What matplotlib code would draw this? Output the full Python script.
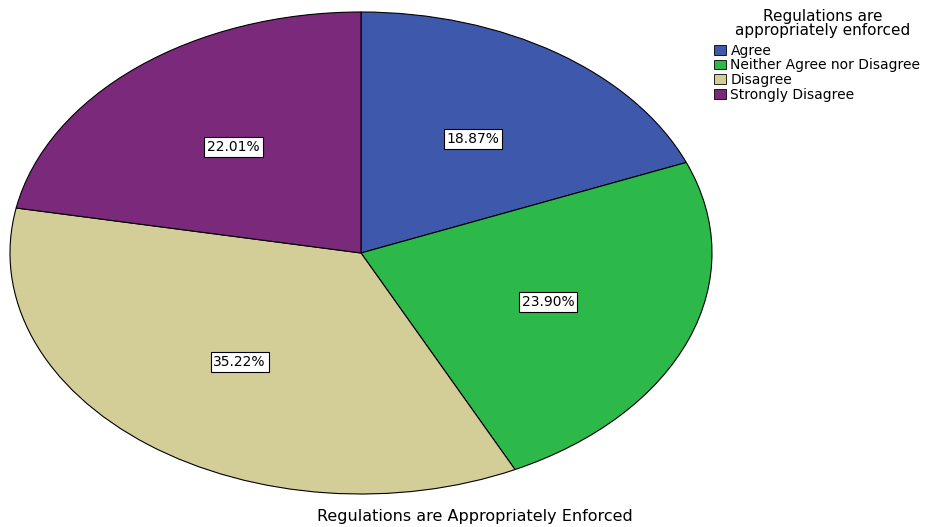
import matplotlib.pyplot as plt
from matplotlib.patches import Patch

plt.rcParams['font.family'] = ['DejaVu Sans']

categories = ['Agree', 'Neither Agree nor Disagree', 'Disagree', 'Strongly Disagree']
values = [18.87, 23.90, 35.22, 22.01]
colors = ['#3e58ac', '#2db84a', '#d3ce97', '#7b2a7b']
legend_title = 'Regulations are\nappropriately enforced'
x_title = 'Regulations are Appropriately Enforced'

fig = plt.figure(figsize=(9.35, 5.27), dpi=100)
ax = fig.add_axes([10 / 935, 33 / 527, 702 / 935, 482 / 527])

wedges, texts, autotexts = ax.pie(
    values, colors=colors, startangle=90, counterclock=False,
    autopct='%.2f%%', pctdistance=0.57,
    wedgeprops=dict(edgecolor='black', linewidth=0.8),
    textprops=dict(fontsize=10, color='black'))
for t in autotexts:
    t.set_bbox(dict(boxstyle='square,pad=0.2', facecolor='white', edgecolor='black', linewidth=0.8))
ax.set_aspect('auto')
ax.set_xlim(-1.0, 1.0)
ax.set_ylim(-1.0, 1.0)

# legend title as separate text, entries below
fig.text(823 / 935, 1 - 23.5 / 527, legend_title, ha='center', va='center',
         fontsize=11, linespacing=0.95, multialignment='center')

handles = [Patch(facecolor=c, edgecolor='black', linewidth=0.6) for c in colors]
leg = fig.legend(handles, categories, loc='upper left', bbox_to_anchor=(711 / 935, 1 - 41 / 527),
                 frameon=False, fontsize=10, handlelength=0.9, handleheight=0.7,
                 handletextpad=0.3, labelspacing=0.05, borderpad=0.2, borderaxespad=0)

fig.text(475 / 935, 1 - 517 / 527, x_title, ha='center', va='center', fontsize=11.5)

fig.savefig('out.png', dpi=100)
